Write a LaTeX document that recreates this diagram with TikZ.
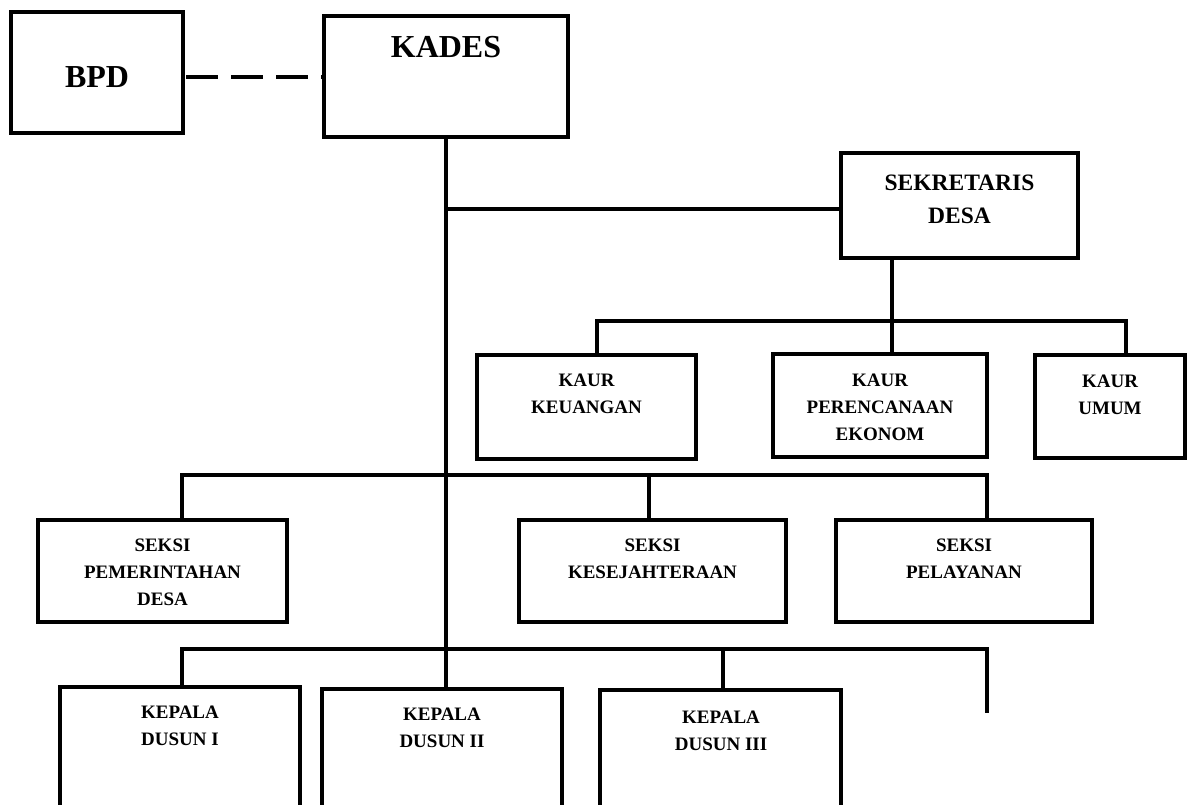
\documentclass[tikz,border=0pt]{standalone}
\usepackage{fontspec}
\setmainfont{Liberation Serif}
\begin{document}
\begin{tikzpicture}[x=1pt,y=-1pt,
  box/.style={draw, line width=3.3pt, inner sep=0pt},
  lbl/.style={font=\bfseries\fontsize{19}{27}\selectfont, align=center, inner sep=0pt},
  sek/.style={font=\bfseries\fontsize{23.5}{33.5}\selectfont, align=center, inner sep=0pt},
  big/.style={font=\bfseries\fontsize{32}{38}\selectfont, inner sep=0pt},
  conn/.style={line width=3.3pt, line join=miter},
  dashline/.style={line width=4pt, dash pattern=on 32pt off 13pt}]
\useasboundingbox (0,0) rectangle (1187,805);
\clip (0,0) rectangle (1187,805);
\fill[white] (0,0) rectangle (1187,805);

% boxes
\node[box, minimum width=172pt, minimum height=121pt] (bpd) at (97,72.5) {};
\node[box, minimum width=244pt, minimum height=121pt] (kades) at (446,76.5) {};
\node[box, minimum width=237pt, minimum height=105pt] (sek) at (959.5,205.5) {};
\node[box, minimum width=219pt, minimum height=104pt] (kk) at (586.5,407) {};
\node[box, minimum width=214pt, minimum height=103pt] (kp) at (880,405.5) {};
\node[box, minimum width=150pt, minimum height=103pt] (ku) at (1110,406.5) {};
\node[box, minimum width=249pt, minimum height=102pt] (sp) at (162.5,571) {};
\node[box, minimum width=267pt, minimum height=102pt] (sk) at (652.5,571) {};
\node[box, minimum width=256pt, minimum height=102pt] (spl) at (964,571) {};
\node[box, minimum width=240pt, minimum height=213pt] (kd1) at (180,793.5) {};
\node[box, minimum width=240pt, minimum height=211pt] (kd2) at (442,794.5) {};
\node[box, minimum width=241pt, minimum height=210pt] (kd3) at (720.5,795) {};

% labels
\node[big] (bpdt) at (97,77) {BPD};
\node[big] (kadest) at (446,47.5) {KADES};
\node[sek] (sekt) at (959.5,199.25) {SEKRETARIS\\DESA};
\node[lbl] (kkt) at (586.5,394) {KAUR\\KEUANGAN};
\node[lbl] (kpt) at (880,407.25) {KAUR\\PERENCANAAN\\EKONOM};
\node[lbl] (kut) at (1110,395) {KAUR\\UMUM};
\node[lbl] (spt) at (162.5,572) {SEKSI\\PEMERINTAHAN\\DESA};
\node[lbl] (skt) at (652.5,558.5) {SEKSI\\KESEJAHTERAAN};
\node[lbl] (splt) at (964,558.5) {SEKSI\\PELAYANAN};
\node[lbl] (kd1t) at (180,726) {KEPALA\\DUSUN I};
\node[lbl] (kd2t) at (442,727.75) {KEPALA\\DUSUN II};
\node[lbl] (kd3t) at (721,730.5) {KEPALA\\DUSUN III};

% connectors
\draw[dashline] ([xshift=1.5pt]bpd.east |- 0,77) -- (kades.west |- 0,77);
\draw[conn] (kades.south) -- (kades.south |- kd2.north);
\coordinate (sj) at (446,209);
\draw[conn] (sj) -- (sj -| sek.west);
\coordinate (sd) at (892,0);
\draw[conn] (sek.south -| sd) -- (kp.north -| sd);
\coordinate (kbL) at (597,321);
\coordinate (kbR) at (1126,321);
\draw[conn] (kbL |- kk.north) -- (kbL) -- (kbR) -- (kbR |- ku.north);
\coordinate (sbL) at (182,475);
\coordinate (sbR) at (987,475);
\coordinate (sbM) at (649,475);
\draw[conn] (sbL |- sp.north) -- (sbL) -- (sbR) -- (sbR |- spl.north);
\draw[conn] (sbM) -- (sbM |- sk.north);
\coordinate (bbL) at (182,649);
\coordinate (bbR) at (987,649);
\coordinate (bbM) at (723,649);
\coordinate (bbE) at (987,713);
\draw[conn] (bbL |- kd1.north) -- (bbL) -- (bbR) -- (bbE);
\draw[conn] (bbM) -- (bbM |- kd3.north);
\end{tikzpicture}
\end{document}
